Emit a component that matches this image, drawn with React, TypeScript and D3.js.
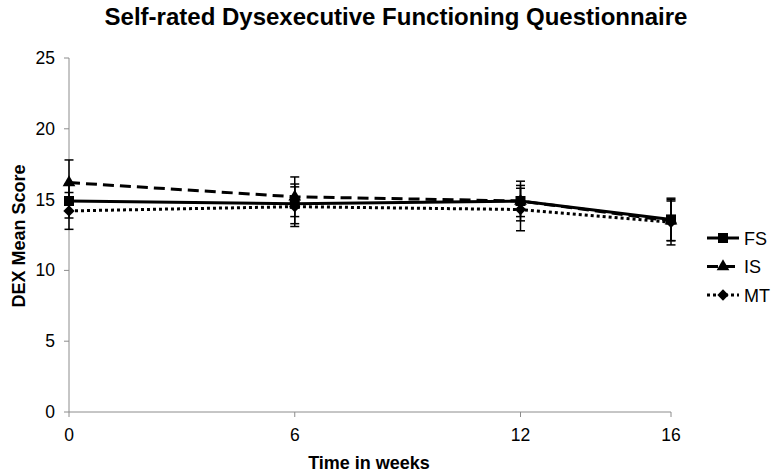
import React from "react";
import * as d3 from "d3";

const weeks = [0, 6, 12, 16];
const yTicks = [0, 5, 10, 15, 20, 25];

const fsMean = [14.9, 14.7, 14.9, 13.6];
const fsErr = [1.2, 1.4, 1.4, 1.5];
const isMean = [16.2, 15.2, 14.9, 13.5];
const isErr = [1.6, 1.4, 1.1, 1.4];
const mtMean = [14.2, 14.5, 14.3, 13.4];
const mtErr = [1.3, 1.4, 1.5, 1.6];

const seriesNames = ["FS", "IS", "MT"];

type Series = {
  name: string;
  mean: number[];
  err: number[];
  dash: string;
  symbol: d3.SymbolType;
  size: number;
  rotate: number;
};

const series: Series[] = [
  { name: seriesNames[0], mean: fsMean, err: fsErr, dash: "none", symbol: d3.symbolSquare, size: 100, rotate: 0 },
  { name: seriesNames[1], mean: isMean, err: isErr, dash: "11 6", symbol: d3.symbolTriangle, size: 70, rotate: 0 },
  { name: seriesNames[2], mean: mtMean, err: mtErr, dash: "3 3", symbol: d3.symbolSquare, size: 64, rotate: 45 },
];

const W = 775;
const H = 473;
const font = "'Liberation Sans', Arial, Helvetica, sans-serif";
const axisColor = "#8c8c8c";

export default function App() {
  const x = d3.scaleLinear().domain([0, 16]).range([69, 671]);
  const y = d3.scaleLinear().domain([0, 25]).range([412, 58]);

  const line = d3
    .line<number>()
    .x((_, i) => x(weeks[i]))
    .y((d) => y(d));

  const legendY = d3.scalePoint<string>().domain(seriesNames).range([238, 295]);

  return (
    <svg
      width={W}
      height={H}
      style={{ position: "absolute", left: 0, top: 0, background: "#fff" }}
      fontFamily={font}
    >
      <text x={396} y={25} textAnchor="middle" fontSize={24} fontWeight="bold">
        Self-rated Dysexecutive Functioning Questionnaire
      </text>

      {/* axes */}
      <line x1={x(0)} x2={x(0)} y1={y(25)} y2={y(0)} stroke={axisColor} />
      <line x1={x(0)} x2={x(16)} y1={y(0)} y2={y(0)} stroke={axisColor} />
      {yTicks.map((t) => (
        <g key={t}>
          <line x1={x(0) - 5} x2={x(0)} y1={y(t)} y2={y(t)} stroke={axisColor} />
          <text x={55} y={y(t) + 6} textAnchor="end" fontSize={17.5}>
            {t}
          </text>
        </g>
      ))}
      {weeks.map((w) => (
        <g key={w}>
          <line x1={x(w)} x2={x(w)} y1={y(0)} y2={y(0) + 5} stroke={axisColor} />
          <text x={x(w)} y={441} textAnchor="middle" fontSize={17.5}>
            {w}
          </text>
        </g>
      ))}
      <text x={369} y={469} textAnchor="middle" fontSize={18} fontWeight="bold">
        Time in weeks
      </text>
      <text
        transform={`translate(25,236) rotate(-90)`}
        textAnchor="middle"
        fontSize={18}
        fontWeight="bold"
      >
        DEX Mean Score
      </text>

      {/* error bars */}
      {series.map((s) =>
        s.mean.map((m, i) => (
          <g key={s.name + i} stroke="#000" strokeWidth={1.5}>
            <line x1={x(weeks[i])} x2={x(weeks[i])} y1={y(m + s.err[i])} y2={y(m - s.err[i])} />
            <line x1={x(weeks[i]) - 4.5} x2={x(weeks[i]) + 4.5} y1={y(m + s.err[i])} y2={y(m + s.err[i])} />
            <line x1={x(weeks[i]) - 4.5} x2={x(weeks[i]) + 4.5} y1={y(m - s.err[i])} y2={y(m - s.err[i])} />
          </g>
        ))
      )}

      {/* lines */}
      {series.map((s) => (
        <path
          key={s.name}
          d={line(s.mean) ?? ""}
          fill="none"
          stroke="#000"
          strokeWidth={3}
          strokeDasharray={s.dash}
        />
      ))}

      {/* markers */}
      {series.map((s) =>
        s.mean.map((m, i) => (
          <path
            key={s.name + "m" + i}
            d={d3.symbol(s.symbol, s.size)() ?? ""}
            transform={`translate(${x(weeks[i])},${y(m)}) rotate(${s.rotate})`}
            fill="#000"
          />
        ))
      )}

      {/* legend */}
      {series.map((s) => {
        const ly = legendY(s.name) ?? 0;
        return (
          <g key={s.name + "leg"}>
            <line x1={707} x2={739} y1={ly} y2={ly} stroke="#000" strokeWidth={3} strokeDasharray={s.dash} />
            <path
              d={d3.symbol(s.symbol, s.size)() ?? ""}
              transform={`translate(723,${ly}) rotate(${s.rotate})`}
              fill="#000"
            />
            <text x={744} y={ly + 6.5} fontSize={18}>
              {s.name}
            </text>
          </g>
        );
      })}
    </svg>
  );
}
